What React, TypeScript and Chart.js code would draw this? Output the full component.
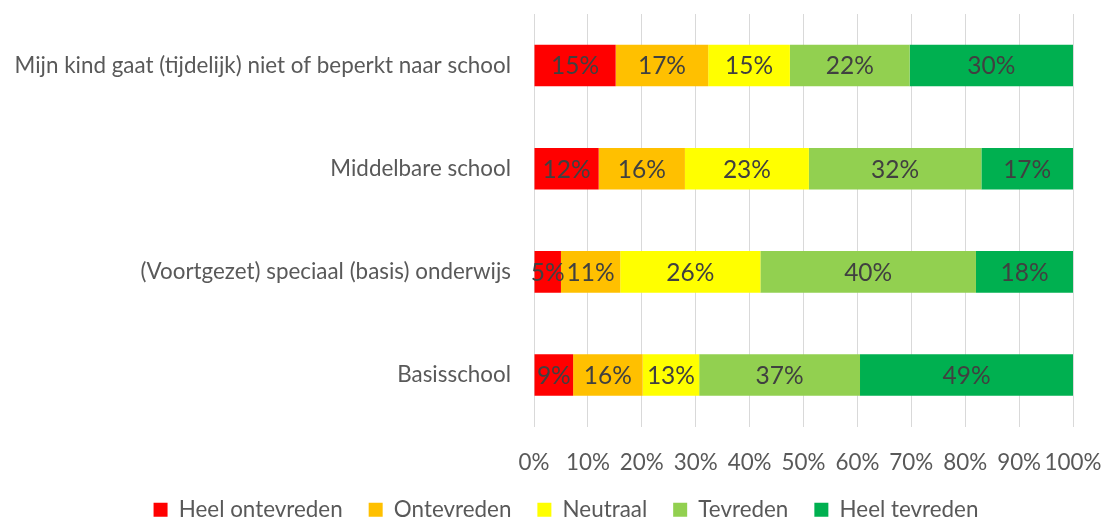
import React, { useEffect, useRef } from "react";
import { Chart, registerables } from "chart.js";

Chart.register(...registerables);

const categories = [
  "Mijn kind gaat (tijdelijk) niet of beperkt naar school",
  "Middelbare school",
  "(Voortgezet) speciaal (basis) onderwijs",
  "Basisschool",
];
const seriesNames = ["Heel ontevreden", "Ontevreden", "Neutraal", "Tevreden", "Heel tevreden"];
const heelOntevreden = [15, 12, 5, 9];
const ontevreden = [17, 16, 11, 16];
const neutraal = [15, 23, 26, 13];
const tevreden = [22, 32, 40, 37];
const heelTevreden = [30, 17, 18, 49];
const seriesColors = ["#FF0000", "#FFC000", "#FFFF00", "#92D050", "#00B050"];
const xTickValues = [0, 10, 20, 30, 40, 50, 60, 70, 80, 90, 100];

const FONT = "Lato, 'Liberation Sans', sans-serif";
const AXIS_SIZE = 22.4;
const LABEL_SIZE = 24.5;
const PAD_LEFT = 59;

export default function App() {
  const ref = useRef<HTMLCanvasElement | null>(null);

  useEffect(() => {
    document.body.style.margin = "0";
    const series = [heelOntevreden, ontevreden, neutraal, tevreden, heelTevreden];
    const totals = categories.map((_, i) => series.reduce((s, arr) => s + arr[i], 0));

    const labelPlugin = {
      id: "segLabels",
      afterDatasetsDraw(chart: any) {
        const ctx = chart.ctx;
        ctx.save();
        ctx.font = `${LABEL_SIZE}px ${FONT}`;
        ctx.fillStyle = "#404040";
        ctx.textAlign = "center";
        ctx.textBaseline = "middle";
        chart.data.datasets.forEach((ds: any, di: number) => {
          const meta = chart.getDatasetMeta(di);
          meta.data.forEach((el: any, i: number) => {
            const raw = ds.rawValues[i];
            const cx = (el.x + el.base) / 2;
            ctx.fillText(raw + "%", cx, el.y + 1);
          });
        });
        ctx.restore();
      },
    };

    const chart = new Chart(ref.current!, {
      type: "bar",
      data: {
        labels: categories,
        datasets: series.map((arr, si) => ({
          label: seriesNames[si],
          data: arr.map((v, i) => (v / totals[i]) * 100),
          rawValues: arr,
          backgroundColor: seriesColors[si],
          borderWidth: 0,
          categoryPercentage: 1,
          barPercentage: 0.403,
        })) as any,
      },
      options: {
        indexAxis: "y",
        animation: false,
        responsive: false,
        maintainAspectRatio: false,
        layout: { padding: { top: 14, right: 28, left: PAD_LEFT, bottom: 0 } },
        scales: {
          x: {
            stacked: true,
            min: 0,
            max: 100,
            afterBuildTicks(scale: any) {
              scale.ticks = xTickValues.map((v) => ({ value: v }));
            },
            afterFit(scale: any) {
              scale.height = 46;
              scale.paddingLeft = 0;
              scale.paddingRight = 0;
              scale._computeLabelArea = () => undefined;
            },
            grid: { color: "#D9D9D9", lineWidth: 1, drawTicks: false },
            border: { display: false },
            ticks: {
              padding: 23,
              color: "#595959",
              font: { family: FONT, size: AXIS_SIZE },
              callback: (v: any) => v + "%",
              maxRotation: 0,
              autoSkip: false,
            },
          },
          y: {
            stacked: true,
            afterFit(scale: any) {
              scale.width = 534 - PAD_LEFT;
              scale.paddingTop = 0;
              scale.paddingBottom = 0;
              scale._computeLabelArea = () => undefined;
            },
            grid: { display: false, drawTicks: false },
            border: { display: false },
            ticks: {
              padding: 23,
              color: "#595959",
              font: { family: FONT, size: AXIS_SIZE },
            },
          },
        },
        plugins: {
          tooltip: { enabled: false },
          legend: {
            position: "bottom",
            labels: {
              boxWidth: 14,
              boxHeight: 14,
              padding: 26,
              color: "#595959",
              font: { family: FONT, size: AXIS_SIZE },
            },
          },
        },
      },
      plugins: [labelPlugin],
    } as any);
    return () => chart.destroy();
  }, []);

  return (
    <div style={{ width: 1101, height: 521, overflow: "hidden", position: "relative" }}>
      <canvas ref={ref} width={1101} height={531} style={{ display: "block" }} />
    </div>
  );
}
